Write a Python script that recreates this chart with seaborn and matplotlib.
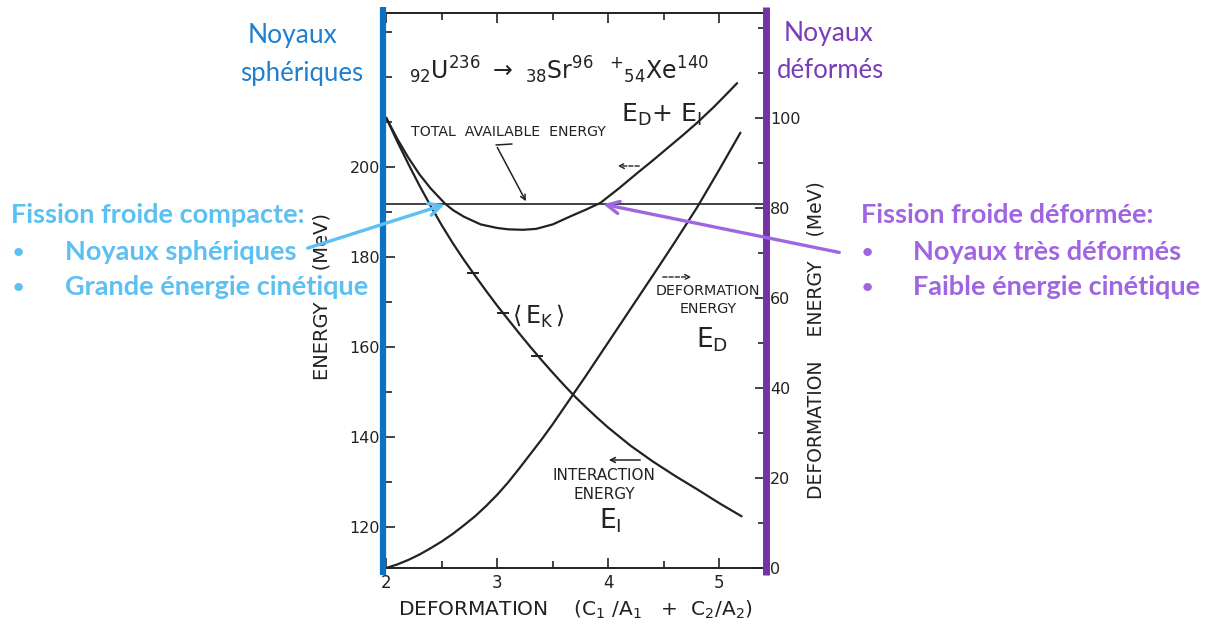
import matplotlib
matplotlib.use("Agg")
import matplotlib.pyplot as plt
import numpy as np
import pandas as pd
import seaborn as sns
from matplotlib.lines import Line2D
from matplotlib.patches import FancyArrowPatch
from matplotlib.ticker import MultipleLocator

# ---------------- data ----------------
# interaction energy E_I (left axis, MeV)
ei_x = [2.0, 2.1, 2.2, 2.3, 2.4, 2.5, 2.6, 2.7, 2.8, 2.9, 3.0, 3.1, 3.2, 3.3, 3.4,
        3.5, 3.6, 3.7, 3.8, 3.9, 4.0, 4.2, 4.4, 4.6, 4.8, 5.0, 5.2]
ei_y = [210.9, 205.6, 200.6, 195.8, 191.3, 187.0, 183.0, 179.3, 175.8, 172.4, 169.1,
        166.0, 162.9, 159.9, 157.0, 154.2, 151.5, 148.9, 146.5, 144.2, 142.0, 138.0,
        134.5, 131.3, 128.3, 125.2, 122.3]

# deformation energy E_D (right axis, MeV)
ed_x = [2.0, 2.1, 2.2, 2.3, 2.4, 2.5, 2.6, 2.7, 2.8, 2.9, 3.0, 3.1, 3.2, 3.3, 3.4,
        3.5, 3.6, 3.7, 3.8, 3.9, 4.0, 4.2, 4.4, 4.6, 4.8, 5.0, 5.19]
ed_y = [0.0, 0.8, 1.8, 3.0, 4.4, 5.9, 7.6, 9.5, 11.5, 13.8, 16.3, 19.1, 22.2, 25.4,
        28.6, 32.0, 35.6, 39.2, 42.8, 46.5, 50.2, 57.6, 65.0, 72.5, 80.2, 88.6, 96.8]

# E_D + E_I (left axis, MeV)
sum_x = [2.0, 2.1, 2.2, 2.3, 2.4, 2.53, 2.6, 2.7, 2.85, 3.0, 3.1, 3.23, 3.35, 3.5,
         3.66, 3.8, 3.93, 4.1, 4.26, 4.4, 4.53, 4.67, 4.8, 4.95, 5.05, 5.16]
sum_y = [210.9, 206.2, 202.0, 198.3, 195.2, 191.8, 190.4, 188.9, 187.2, 186.4, 186.1,
         186.0, 186.2, 187.2, 189.0, 190.5, 192.0, 195.3, 198.6, 201.4, 204.1, 207.0,
         209.8, 213.3, 215.8, 218.6]

total_available = 191.8
ek_x = [2.78, 3.05, 3.36]
ek_y = [176.4, 167.6, 158.0]

x_ticks = [2, 3, 4, 5]
left_ticks = [120, 140, 160, 180, 200]
right_ticks = [0, 20, 40, 60, 80, 100]

# ---------------- style ----------------
sns.set_theme(style="ticks")
plt.rcParams['font.family'] = ['DejaVu Sans']
plt.rcParams['mathtext.fontset'] = 'dejavusans'

W, H = 1211, 625
fig = plt.figure(figsize=(W / 100, H / 100), dpi=100)
fig.patch.set_facecolor('white')


def P(px, py):
    return px / W, 1 - py / H


ax = fig.add_axes([384 / W, 1 - 568 / H, (766 - 384) / W, (568 - 13) / H])
ax2 = ax.twinx()

ink = '#222222'
offset = 110.8
ax.set_xlim(1.98, 5.42)
ax.set_ylim(110.8, 234.2)
ax2.set_ylim(110.8 - offset, 234.2 - offset)

df_ei = pd.DataFrame({'x': ei_x, 'y': ei_y})
df_sum = pd.DataFrame({'x': sum_x, 'y': sum_y})
df_ed = pd.DataFrame({'x': ed_x, 'y': ed_y})

sns.lineplot(data=df_ei, x='x', y='y', ax=ax, color=ink, lw=1.6, sort=False, estimator=None)
sns.lineplot(data=df_sum, x='x', y='y', ax=ax, color=ink, lw=1.6, sort=False, estimator=None)
sns.lineplot(data=df_ed, x='x', y='y', ax=ax2, color=ink, lw=1.6, sort=False, estimator=None)
ax.axhline(total_available, color=ink, lw=1.2)
ax.plot(ek_x, ek_y, ls='none', marker='_', ms=9, mew=1.4, color=ink)

for a in (ax, ax2):
    a.set_xlabel('')
    a.set_ylabel('')
    for s in a.spines.values():
        s.set_color(ink)
        s.set_linewidth(1.2)

ax.set_xticks(x_ticks)
ax.xaxis.set_minor_locator(MultipleLocator(0.5))
ax.set_yticks(left_ticks)
ax.yaxis.set_minor_locator(MultipleLocator(10))
ax2.set_yticks(right_ticks)
ax2.yaxis.set_minor_locator(MultipleLocator(10))

ax.tick_params(axis='x', which='both', direction='in', top=True, bottom=True,
               colors=ink, labelsize=12, pad=4)
ax.tick_params(axis='x', which='major', length=7, width=1.2)
ax.tick_params(axis='x', which='minor', length=5, width=1.2)
ax.tick_params(axis='y', which='both', direction='in', left=True, right=False,
               colors=ink, labelsize=11.5, pad=3)
ax.tick_params(axis='y', which='major', length=8, width=1.2)
ax.tick_params(axis='y', which='minor', length=6, width=1.2)
ax2.tick_params(axis='y', which='both', direction='in', right=True,
                colors=ink, labelsize=11.5, pad=3)
ax2.tick_params(axis='y', which='major', length=8, width=1.2)
ax2.tick_params(axis='y', which='minor', length=6, width=1.2)

ax.set_xlabel(r'DEFORMATION    (C$_1$ /A$_1$   +  C$_2$/A$_2$)', fontsize=14.5,
              color=ink, labelpad=5)
# axis titles (placed where the reference shows them)
fig.text(*P(322, 296), 'ENERGY     (MeV)', rotation=90,
         fontsize=14, color=ink, ha='center', va='center')
fig.text(*P(816, 340), 'DEFORMATION    ENERGY    (MeV)', rotation=90,
         fontsize=13.5, color=ink, ha='center', va='center')

# labels inside the chart
fig.text(*P(409, 70), r'${}_{92}\mathrm{U}^{236}\ \rightarrow\ {}_{38}\mathrm{Sr}^{96}\ \ {}^{+}{}_{54}\mathrm{Xe}^{140}$',
         fontsize=17, color=ink, ha='left', va='center')
fig.text(*P(411, 132), 'TOTAL  AVAILABLE  ENERGY', fontsize=10.2, color=ink,
         ha='left', va='center')
fig.text(*P(621, 115), r'E$_\mathrm{D}$+ E$_\mathrm{I}$', fontsize=18, color=ink,
         ha='left', va='center')
fig.text(*P(512, 316), r'$\langle\,\mathrm{E}_{\mathrm{K}}\,\rangle$', fontsize=17,
         color=ink, ha='left', va='center')
fig.text(*P(708, 300), 'DEFORMATION\nENERGY', fontsize=10.3, color=ink,
         ha='center', va='center', linespacing=1.3)
fig.text(*P(712, 340), r'E$_\mathrm{D}$', fontsize=19, color=ink, ha='center', va='center')
fig.text(*P(604, 485), 'INTERACTION\nENERGY', fontsize=11, color=ink,
         ha='center', va='center', linespacing=1.3)
fig.text(*P(610, 521), r'E$_\mathrm{I}$', fontsize=19, color=ink, ha='center', va='center')

# leader for total available energy
to_fig = lambda xy: fig.transFigure.inverted().transform(ax.transData.transform(xy))
lead_top = P(496, 145)
fig.add_artist(Line2D([lead_top[0], 512 / W], [lead_top[1], 1 - 144 / H],
                      transform=fig.transFigure, color=ink, lw=1.1))
fig.add_artist(FancyArrowPatch(lead_top, to_fig((3.27, total_available)),
                               transform=fig.transFigure, arrowstyle='->',
                               mutation_scale=9, color=ink, lw=1.1))
# small direction arrows
fig.add_artist(FancyArrowPatch(P(642, 166), P(615, 166), transform=fig.transFigure,
                               arrowstyle='->', mutation_scale=9, color=ink, lw=1.0,
                               linestyle=(0, (3, 1.5))))
fig.add_artist(FancyArrowPatch(P(660, 277), P(694, 277), transform=fig.transFigure,
                               arrowstyle='->', mutation_scale=9, color=ink, lw=1.0,
                               linestyle=(0, (3, 1.5))))
fig.add_artist(FancyArrowPatch(P(643, 460), P(606, 460), transform=fig.transFigure,
                               arrowstyle='->', mutation_scale=9, color=ink, lw=1.1))

# coloured side bars
blue = '#0A72C2'
purple = '#7432A8'
fig.add_artist(Line2D([383 / W, 383 / W], [1 - 7 / H, 1 - 575 / H],
                      transform=fig.transFigure, color=blue, lw=4.5, solid_capstyle='butt'))
fig.add_artist(Line2D([766 / W, 766 / W], [1 - 7 / H, 1 - 575 / H],
                      transform=fig.transFigure, color=purple, lw=5, solid_capstyle='butt'))

# French annotations
fam = ['Lato', 'DejaVu Sans']
blue_title = '#1F80D0'
purple_title = '#7A3DBA'
light_blue = '#5CC0F2'
light_purple = '#A066E2'

fig.text(*P(293, 36), 'Noyaux', fontsize=19, color=blue_title, family=fam, ha='center', va='center')
fig.text(*P(302, 73), 'sphériques', fontsize=18.5, color=blue_title, family=fam, ha='center', va='center')
fig.text(*P(829, 33), 'Noyaux', fontsize=19, color=purple_title, family=fam, ha='center', va='center')
fig.text(*P(831, 70), 'déformés', fontsize=18.5, color=purple_title, family=fam, ha='center', va='center')

kw = dict(fontsize=19.5, family=fam, fontweight='bold', va='center', ha='left', zorder=12)
bkw = dict(fontsize=14, family=fam, fontweight='bold', va='center', ha='center')
fig.text(*P(11, 215), 'Fission froide compacte:', color=light_blue, **kw)
fig.text(*P(18, 252), '•', color=light_blue, **bkw)
fig.text(*P(18, 287), '•', color=light_blue, **bkw)
fig.text(*P(65, 252), 'Noyaux sphériques', color=light_blue, **kw)
fig.text(*P(65, 287), 'Grande énergie cinétique', color=light_blue, **kw)

fig.text(*P(861, 215), 'Fission froide déformée:', color=light_purple, **kw)
fig.text(*P(867, 252), '•', color=light_purple, **bkw)
fig.text(*P(867, 287), '•', color=light_purple, **bkw)
fig.text(*P(913, 252), 'Noyaux très déformés', color=light_purple, **kw)
fig.text(*P(913, 287), 'Faible énergie cinétique', color=light_purple, **kw)

# pointing arrows
fig.add_artist(FancyArrowPatch(P(305, 249), to_fig((2.55, total_available)),
                               transform=fig.transFigure, arrowstyle='->',
                               mutation_scale=22, color=light_blue, lw=2.4, zorder=10))
fig.add_artist(FancyArrowPatch(P(842, 253), to_fig((3.93, total_available)),
                               transform=fig.transFigure, arrowstyle='->',
                               mutation_scale=22, color=light_purple, lw=2.4, zorder=10))

fig.savefig('out.png', dpi=100, facecolor='white')
